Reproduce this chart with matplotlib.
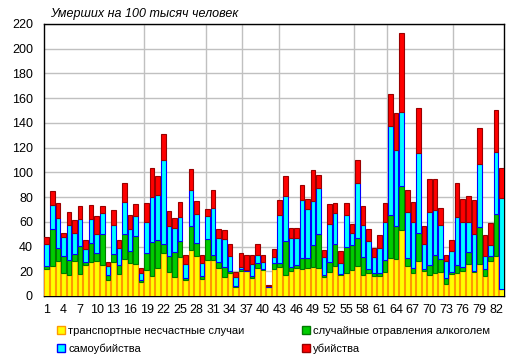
import matplotlib
matplotlib.use("Agg")
import matplotlib.pyplot as plt
from matplotlib.patches import Patch
import numpy as np

plt.rcParams['font.family'] = ['Liberation Sans', 'DejaVu Sans']

# Values per 100 000 people, categories 1..83
transport = [22.1, 24.5, 28.2, 18.8, 17.2, 28.7, 18.0, 25.3, 27.7, 28.2,
             25.3, 13.1, 27.9, 18.0, 29.8, 26.6, 26.1, 11.5, 21.2, 16.0,
             22.8, 34.7, 19.3, 15.2, 31.4, 12.6, 37.1, 32.6, 13.6, 29.3,
             29.3, 22.8, 15.2, 18.5, 7.1, 20.1, 20.5, 14.7, 22.3, 21.2,
             7.1, 22.0, 23.3, 17.2, 20.1, 22.8, 22.0, 22.8, 23.3, 22.8,
             15.2, 19.3, 23.9, 16.6, 18.8, 21.2, 24.1, 17.2, 18.8, 16.0,
             16.0, 19.3, 30.6, 30.1, 53.6, 24.1, 18.8, 28.7, 20.6, 16.6,
             18.8, 19.8, 9.9, 17.4, 18.8, 20.1, 26.1, 19.3, 26.1, 15.8,
             28.7, 32.0, 5.8]
alcohol = [2.5, 29.9, 10.8, 13.7, 12.1, 5.5, 22.7, 2.4, 15.4, 6.8,
           25.1, 3.7, 6.3, 6.9, 20.6, 9.7, 22.3, 1.6, 13.8, 27.6,
           22.1, 7.6, 12.9, 20.6, 13.0, 2.1, 19.7, 9.9, 2.4, 17.0,
           3.7, 4.6, 8.1, 2.1, 0.8, 1.4, 0.0, 1.3, 4.3, 0.8,
           0.0, 4.6, 3.3, 27.2, 3.2, 2.5, 8.6, 7.8, 17.6, 27.6,
           1.4, 8.1, 18.4, 1.4, 20.7, 20.3, 23.0, 14.2, 3.2, 2.5,
           2.5, 10.0, 34.6, 26.4, 35.3, 6.5, 3.7, 22.5, 1.4, 8.1,
           14.6, 10.3, 4.8, 1.9, 6.5, 3.2, 9.4, 0.8, 29.6, 6.2,
           3.5, 34.0, 0.0]
suicide = [17.6, 19.4, 24.0, 15.1, 28.0, 17.0, 21.5, 10.5, 19.4, 15.4,
           16.6, 7.7, 23.5, 14.1, 25.5, 18.1, 16.2, 5.4, 24.7, 36.4,
           37.0, 68.0, 24.3, 19.4, 19.4, 11.4, 28.6, 24.1, 10.9, 18.3,
           38.2, 19.4, 22.7, 12.0, 7.3, 1.8, 0.5, 10.1, 6.4, 5.4,
           0.6, 4.8, 38.6, 36.4, 23.5, 21.5, 46.7, 39.4, 35.6, 36.9,
           14.8, 31.1, 24.8, 8.6, 26.2, 9.7, 44.3, 25.7, 22.1, 12.9,
           20.2, 30.5, 72.3, 61.3, 59.9, 37.4, 37.3, 64.4, 19.7, 43.2,
           36.4, 27.5, 14.0, 17.5, 38.5, 36.5, 24.3, 30.3, 51.3, 10.6,
           9.3, 50.8, 73.7]
murder = [5.8, 10.8, 12.5, 3.6, 10.9, 10.5, 10.3, 7.3, 11.5, 14.0,
          5.5, 3.4, 11.5, 5.9, 15.8, 10.8, 10.1, 4.3, 15.8, 23.2,
          14.9, 21.0, 12.5, 8.1, 12.5, 6.7, 17.6, 10.5, 6.5, 6.0,
          14.8, 7.6, 7.0, 9.7, 4.6, 11.4, 12.1, 6.7, 9.3, 6.0,
          1.6, 6.8, 12.1, 16.0, 8.4, 8.4, 12.2, 8.7, 25.7, 10.3,
          6.0, 15.6, 8.4, 9.4, 9.2, 7.3, 18.9, 15.4, 10.3, 7.6,
          10.9, 15.1, 25.7, 30.5, 64.3, 18.0, 16.2, 36.8, 14.8, 26.7,
          24.8, 13.8, 4.7, 8.1, 27.9, 18.3, 20.8, 26.9, 29.2, 16.4,
          17.2, 33.4, 23.7]

categories = list(range(1, len(transport) + 1))
tick_labels = [str(c) for c in categories if (c - 1) % 3 == 0]
series_names = ['транспортные несчастные случаи', 'случайные отравления алкоголем',
                'самоубийства', 'убийства']
title = 'Умерших на 100 тысяч человек'
vgrid_at = [18.59, 29.66, 36.15, 42.93, 56.45, 62.29, 74.3]

faces = ['#FFFF00', '#00CC00', '#00FFFF', '#FF0000']
edges = ['#FF9900', '#007A00', '#0000FF', '#990000']

fig = plt.figure(figsize=(5.18, 3.62), dpi=100)
ax = fig.add_axes([44 / 518, 1 - 296 / 362, 460.3 / 518, 272 / 362])

x = np.array(categories, dtype=float)
bottom = np.zeros(len(x))
for vals, fc, ec in zip([transport, alcohol, suicide, murder], faces, edges):
    v = np.array(vals)
    ax.bar(x, v, width=0.82, bottom=bottom, color=fc, edgecolor=ec,
           linewidth=0.8, zorder=3)
    bottom += v

ax.set_xlim(0.5, len(x) + 0.5)
ax.set_ylim(0, 220)
ax.set_yticks(np.arange(0, 221, 20))
ax.set_xticks([c for c in categories if (c - 1) % 3 == 0])
ax.set_xticklabels(tick_labels)
ax.yaxis.grid(True, color='#C0C0C0', linewidth=1.0, zorder=0)
for g in vgrid_at:
    ax.axvline(g, color='#C0C0C0', linewidth=1.0, zorder=0)
ax.set_axisbelow(True)
for s in ax.spines.values():
    s.set_color('black')
    s.set_linewidth(1.0)
ax.tick_params(axis='both', length=0, labelsize=9, colors='black')
ax.tick_params(axis='y', pad=8)
ax.tick_params(axis='x', pad=6)

fig.text(50 / 518, 1 - 17 / 362, title, fontsize=9, style='italic',
         ha='left', va='baseline')

handles = [Patch(facecolor=fc, edgecolor=ec, linewidth=1.0) for fc, ec in zip(faces, edges)]
order = [0, 2, 1, 3]
fig.legend([handles[i] for i in order], [series_names[i] for i in order],
           ncol=2, loc='upper left', bbox_to_anchor=(55 / 518, 1 - 324 / 362),
           frameon=False, fontsize=8, handlelength=0.7, handleheight=0.7,
           handletextpad=0.3, columnspacing=5.15, labelspacing=0.65,
           borderpad=0.2, borderaxespad=0)

fig.savefig('out.png', dpi=100)
